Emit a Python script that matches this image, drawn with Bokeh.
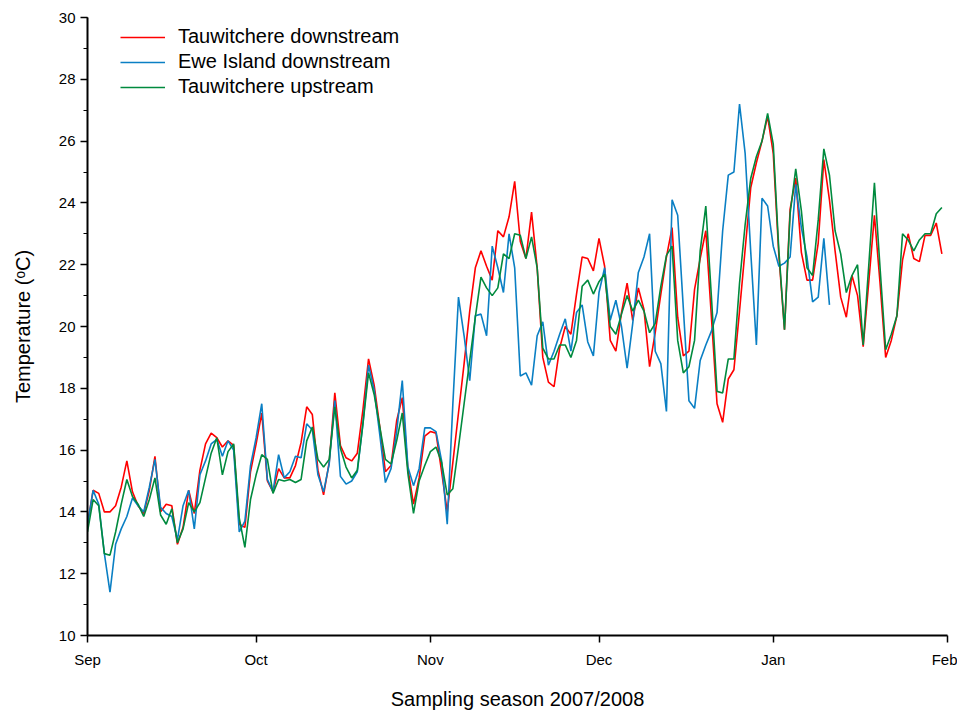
import pandas as pd
from bokeh.plotting import figure
from bokeh.models import (Range1d, FixedTicker, SingleIntervalTicker, DatetimeTickFormatter,
                          Legend, LegendItem, ColumnDataSource)
from bokeh.embed import file_html
from bokeh.resources import INLINE

# ---- data (daily water temperature, deg C, from 1 Sep 2007) ----
season_start = "2007-09-01"

tauwitchere_downstream = [
    13.6, 14.7, 14.6, 14.0, 14.0, 14.2, 14.8, 15.65, 14.65, 14.2,
    13.95, 14.7, 15.8, 14.0, 14.25, 14.2, 12.95, 13.5, 14.7, 13.95,
    15.35, 16.2, 16.55, 16.4, 16.1, 16.3, 16.15, 13.6, 13.5, 15.3,
    16.2, 17.2, 15.0, 14.65, 15.4, 15.1, 15.1, 15.5, 16.25, 17.4,
    17.15, 15.35, 14.55, 15.6, 17.85, 16.15, 15.75, 15.65, 15.9, 17.3,
    18.95, 18.1, 16.75, 15.3, 15.5, 16.95, 17.7, 15.4, 14.25, 15.1,
    16.45, 16.6, 16.55, 15.3, 14.0, 15.6, 17.2, 18.8, 20.5, 21.9,
    22.45, 21.95, 21.5, 23.1, 22.9, 23.55, 24.7, 22.75, 22.2, 23.7,
    21.9, 19.0, 18.2, 18.05, 19.3, 20.0, 19.75, 21.05, 22.25, 22.2,
    21.8, 22.85, 21.95, 19.55, 19.2, 20.45, 21.4, 20.2, 21.25, 20.55,
    18.7, 19.8, 21.05, 22.25, 23.2, 20.3, 19.05, 19.2, 21.2, 22.2,
    23.1, 20.3, 17.5, 16.9, 18.3, 18.6, 20.5, 22.5, 24.5, 25.3,
    26.0, 26.8, 25.6, 22.3, 19.9, 23.8, 24.8, 22.4, 21.5, 21.5,
    22.7, 25.4, 24.1, 22.45, 20.95, 20.3, 21.65, 21.0, 19.35, 21.45,
    23.6, 21.4, 19.0, 19.55, 20.35, 22.15, 23.0, 22.2, 22.1, 22.95,
    22.95, 23.35, 22.35,
]

ewe_island_downstream = [
    13.6, 14.7, 14.25, 12.65, 11.4, 12.95, 13.45, 13.85, 14.45, 14.2,
    14.0, 14.8, 15.7, 14.15, 13.95, 13.85, 13.1, 14.2, 14.7, 13.45,
    15.2, 15.65, 16.2, 16.35, 15.8, 16.3, 16.0, 13.35, 13.7, 15.5,
    16.4, 17.5, 15.05, 14.65, 15.85, 15.1, 15.3, 15.8, 15.75, 16.85,
    16.65, 15.2, 14.65, 15.55, 17.6, 15.15, 14.9, 15.0, 15.3, 16.85,
    18.75, 17.95, 16.5, 14.95, 15.4, 16.6, 18.25, 15.45, 14.85, 15.4,
    16.72, 16.72, 16.6, 15.65, 13.6, 17.5, 20.95, 19.7, 18.25, 20.35,
    20.4, 19.7, 22.6, 21.9, 21.1, 23.0, 21.9, 18.4, 18.5, 18.1,
    19.7, 20.15, 18.75, 19.2, 19.75, 20.25, 19.2, 20.45, 20.7, 19.5,
    19.05, 21.1, 21.9, 20.2, 20.85, 20.0, 18.65, 20.1, 21.75, 22.25,
    23.0, 19.2, 18.8, 17.25, 24.1, 23.6, 20.6, 17.6, 17.35, 18.9,
    19.4, 19.85, 20.45, 23.1, 24.9, 25.0, 27.2, 25.6, 22.4, 19.4,
    24.15, 23.9, 22.6, 21.95, 22.05, 22.25, 24.6, 23.2, 22.25, 20.8,
    20.95, 22.85, 20.7,
]

tauwitchere_upstream = [
    13.35, 14.4, 14.2, 12.65, 12.6, 13.35, 14.25, 15.05, 14.5, 14.25,
    13.85, 14.4, 15.1, 13.9, 13.6, 14.1, 13.0, 13.45, 14.3, 14.0,
    14.3, 15.1, 15.9, 16.4, 15.2, 15.95, 16.2, 13.8, 12.85, 14.4,
    15.2, 15.85, 15.7, 14.6, 15.05, 15.0, 15.05, 14.95, 15.05, 16.3,
    16.75, 15.7, 15.45, 15.7, 17.4, 16.05, 15.45, 15.1, 15.35, 16.85,
    18.5, 17.8, 16.75, 15.7, 15.55, 16.3, 17.2, 15.25, 13.95, 15.0,
    15.5, 15.95, 16.1, 15.6, 14.55, 14.75, 16.1, 17.5, 18.9, 20.3,
    21.6, 21.25, 21.0, 21.25, 22.35, 22.2, 23.0, 22.95, 22.2, 22.9,
    21.9, 19.3, 18.95, 18.95, 19.4, 19.4, 19.0, 19.55, 21.3, 21.5,
    21.05, 21.45, 21.7, 20.0, 19.75, 20.4, 21.0, 20.5, 20.85, 20.5,
    19.8, 20.1, 21.3, 22.3, 22.6, 19.55, 18.5, 18.7, 19.55, 22.45,
    23.9, 20.95, 17.9, 17.85, 18.95, 18.95, 21.4, 23.3, 24.8, 25.5,
    26.0, 26.9, 25.9, 22.45, 19.9, 23.65, 25.1, 23.75, 21.9, 21.65,
    23.45, 25.75, 24.9, 23.1, 22.35, 21.1, 21.65, 22.0, 19.4, 22.0,
    24.65, 21.9, 19.25, 19.75, 20.35, 23.0, 22.8, 22.45, 22.8, 23.0,
    23.0, 23.65, 23.85,
]

series_names = ["Tauwitchere downstream", "Ewe Island downstream", "Tauwitchere upstream"]
series_colors = ["#ff0000", "#0a7fc4", "#008a3e"]
month_ticks = ["2007-09-01", "2007-10-01", "2007-11-01", "2007-12-01", "2008-01-01", "2008-02-01"]
y_ticks_interval = 2

FONT = "Liberation Sans"

p = figure(width=957, height=713, output_backend="svg", toolbar_location=None,
           x_axis_type="datetime",
           x_range=Range1d(pd.Timestamp(month_ticks[0]), pd.Timestamp(month_ticks[-1])),
           y_range=Range1d(10, 30),
           min_border_left=87, min_border_right=10, min_border_top=17, min_border_bottom=78)

p.outline_line_color = None
p.xgrid.grid_line_color = None
p.ygrid.grid_line_color = None
p.background_fill_color = "white"
p.border_fill_color = "white"

renderers = []
for vals, name, col in zip([tauwitchere_downstream, ewe_island_downstream, tauwitchere_upstream],
                           series_names, series_colors):
    src = ColumnDataSource(dict(date=pd.date_range(season_start, periods=len(vals), freq="D"), temp=vals))
    r = p.line("date", "temp", source=src, line_color=col, line_width=1.6)
    renderers.append(r)

# axes
tick_ms = [pd.Timestamp(t).value / 1e6 for t in month_ticks]
p.xaxis.ticker = FixedTicker(ticks=tick_ms, minor_ticks=[])
fmt = "%b"
p.xaxis.formatter = DatetimeTickFormatter(microseconds=fmt, milliseconds=fmt, seconds=fmt, minsec=fmt,
                                          minutes=fmt, hourmin=fmt, hours=fmt, days=fmt, months=fmt, years=fmt)
p.yaxis.ticker = SingleIntervalTicker(interval=y_ticks_interval, num_minor_ticks=2)

for ax in (p.xaxis[0], p.yaxis[0]):
    ax.axis_line_width = 2
    ax.axis_line_color = "black"
    ax.major_tick_line_color = "black"
    ax.major_tick_line_width = 1.5
    ax.major_tick_out = 7
    ax.major_tick_in = 0
    ax.major_label_text_font = FONT
    ax.major_label_text_font_size = "15px"
    ax.major_label_text_color = "black"
    ax.axis_label_text_font = FONT
    ax.axis_label_text_font_size = "20px"
    ax.axis_label_text_font_style = "normal"
    ax.axis_label_text_color = "black"

p.yaxis.minor_tick_line_color = "black"
p.yaxis.minor_tick_line_width = 1.2
p.yaxis.minor_tick_out = 4
p.yaxis.minor_tick_in = 0
p.xaxis.minor_tick_line_color = None

p.xaxis.axis_label = "Sampling season 2007/2008"
p.yaxis.axis_label = "Temperature (\u1d52C)"
p.xaxis.major_label_standoff = 8
p.yaxis.major_label_standoff = 5
p.xaxis.axis_label_standoff = 17
p.yaxis.axis_label_standoff = 22

legend = Legend(items=[LegendItem(label=n, renderers=[r]) for n, r in zip(series_names, renderers)],
                location=(33, 537), orientation="vertical",
                glyph_width=45, glyph_height=20, label_height=20, spacing=2,
                label_standoff=13, padding=0, margin=0,
                border_line_color=None, background_fill_alpha=0,
                label_text_font=FONT, label_text_font_size="20px", label_text_color="black")
p.add_layout(legend, "center")

open("out.html", "w").write(file_html(p, INLINE))
